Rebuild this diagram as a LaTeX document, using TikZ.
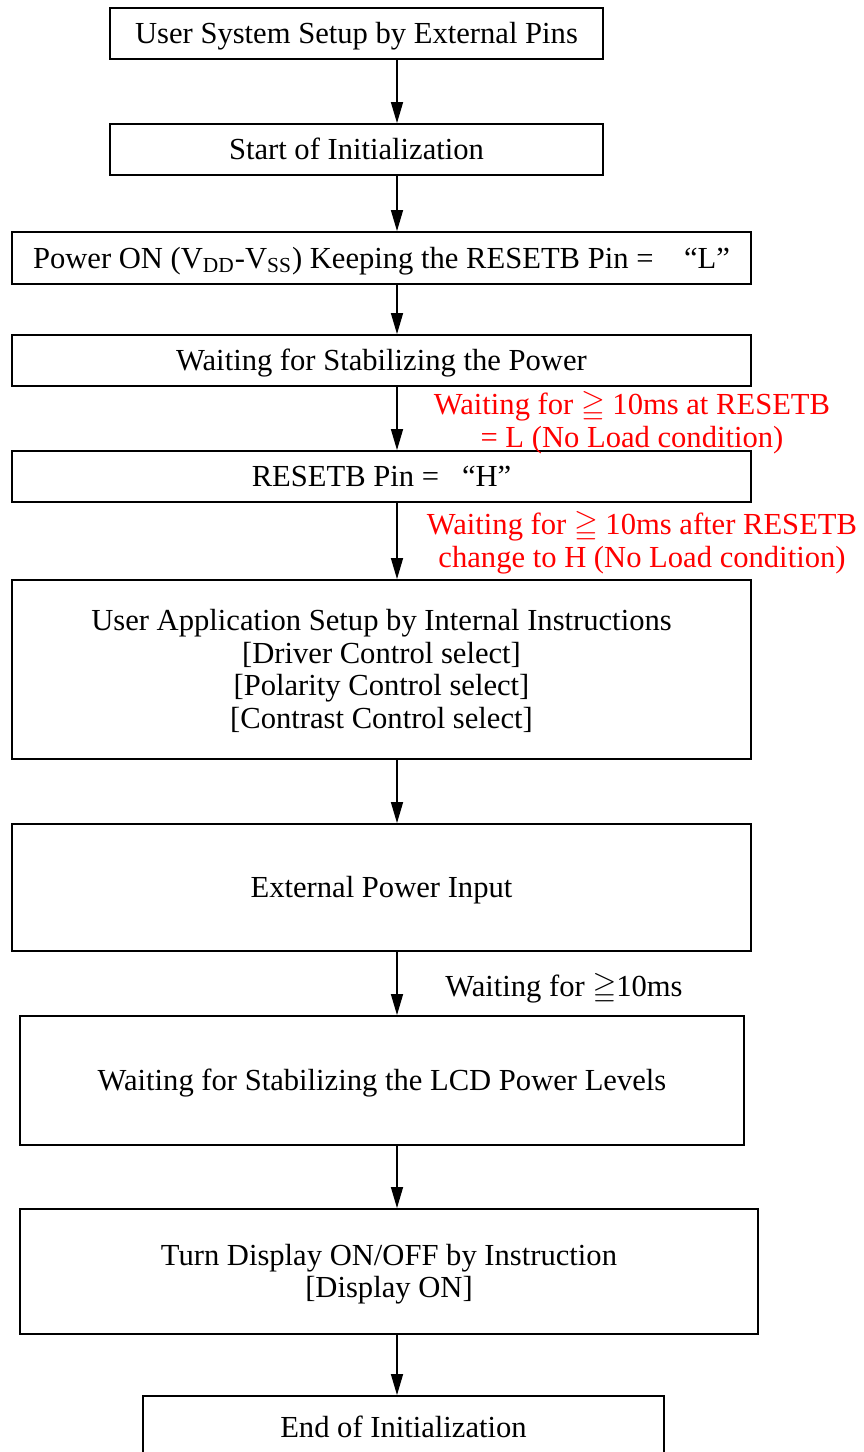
\documentclass[tikz,border=0pt]{standalone}
\usepackage{amsmath}
\usepackage{amssymb}
\usepackage{fontspec}
\setmainfont{Liberation Serif}
\usetikzlibrary{arrows.meta}

\tikzset{
  stepbox/.style={draw,line width=0.9pt,fill=white,align=center,inner sep=0pt,
    text depth=0.6pt,font=\fontsize{15.3}{16.4}\selectfont},
  waitnote/.style={align=center,inner sep=0pt,font=\fontsize{15.3}{16.4}\selectfont},
  flow/.style={-{Triangle[length=10.5pt,width=6pt]},line width=0.7pt}
}

\begin{document}
\begin{tikzpicture}[x=0.5pt,y=-0.5pt]
			\useasboundingbox (0,0) rectangle (863,1452);
			\coordinate (ax) at (397,0);
			% steps
			\node[stepbox,minimum width=246.5pt,minimum height=25.5pt] (setup) at (356.5,33.5) {User System Setup by External Pins};
			\node[stepbox,minimum width=246.5pt,minimum height=25.5pt] (start) at (356.5,149.5) {Start of Initialization};
			\node[stepbox,minimum width=369.5pt,minimum height=26pt] (pwron) at (381.5,258) {Power ON (V\textsubscript{DD}-V\textsubscript{SS}) Keeping the RESETB Pin =\ \ \ \ “L”};
			\node[stepbox,minimum width=369.5pt,minimum height=25.5pt] (stab) at (381.5,360.5) {Waiting for Stabilizing the Power};
			\node[stepbox,minimum width=369.5pt,minimum height=25.5pt] (rsth) at (381.5,476.5) {RESETB Pin =\ \ \ “H”};
			\node[stepbox,minimum width=369.5pt,minimum height=89.5pt] (appl) at (381.5,669.5) {User Application Setup by Internal Instructions\\{}[Driver Control select]\\{}[Polarity Control select]\\{}[Contrast Control select]};
			\node[stepbox,minimum width=369.5pt,minimum height=63.5pt] (extp) at (381.5,887.5) {External Power Input};
			\node[stepbox,minimum width=362pt,minimum height=64.5pt] (lcdp) at (382,1080.5) {Waiting for Stabilizing the LCD Power Levels};
			\node[stepbox,minimum width=369pt,minimum height=62.5pt] (disp) at (389,1271.5) {Turn Display ON/OFF by Instruction\\{}[Display ON]};
			\node[stepbox,minimum width=260.5pt,minimum height=31pt] (fin) at (403.5,1427) {End of Initialization};
			% waiting notes
			\node[waitnote,text=red] (w1) at (632,423) {Waiting for $\geqq$ 10ms at RESETB\\= L (No Load condition)};
			\node[waitnote,text=red] (w2) at (642,543) {Waiting for $\geqq$ 10ms after RESETB\\change to H (No Load condition)};
			\node[waitnote,anchor=west] (w3) at (445,989) {Waiting for $\geqq$10ms};
			% arrows
			\draw[flow] (setup.south -| ax) -- (start.north -| ax);
			\draw[flow] (start.south -| ax) -- (pwron.north -| ax);
			\draw[flow] (pwron.south -| ax) -- (stab.north -| ax);
			\draw[flow] (stab.south -| ax) -- (rsth.north -| ax);
			\draw[flow] (rsth.south -| ax) -- (appl.north -| ax);
			\draw[flow] (appl.south -| ax) -- (extp.north -| ax);
			\draw[flow] (extp.south -| ax) -- (lcdp.north -| ax);
			\draw[flow] (lcdp.south -| ax) -- (disp.north -| ax);
			\draw[flow] (disp.south -| ax) -- (fin.north -| ax);
		\end{tikzpicture}
\end{document}
